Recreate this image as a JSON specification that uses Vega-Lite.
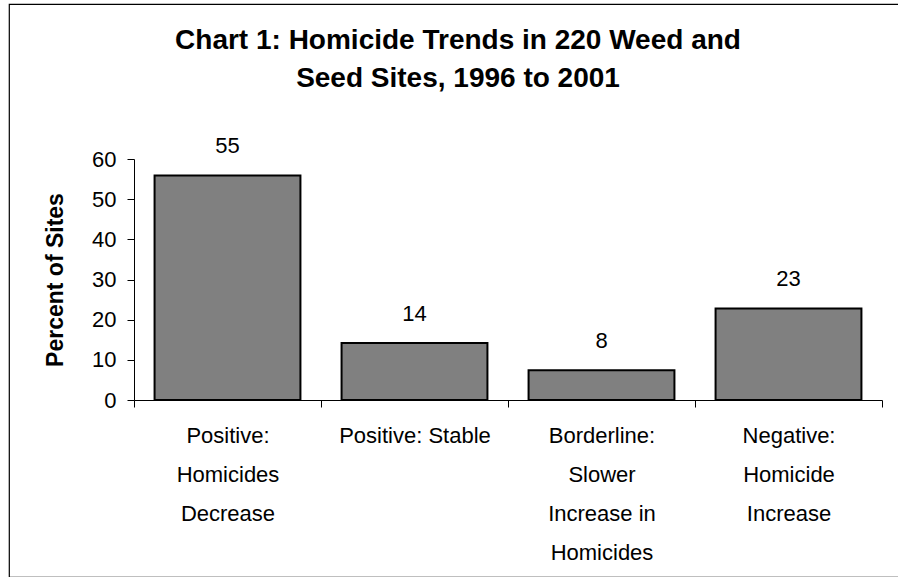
{
  "$schema": "https://vega.github.io/schema/vega-lite/v6.json",
  "autosize": "none",
  "width": 900,
  "height": 573,
  "padding": {"left": 9, "top": 4, "right": 0, "bottom": 0},
  "background": "white",
  "config": {
    "font": "Liberation Sans",
    "view": {"stroke": "black", "strokeWidth": 1.2}
  },
  "title": {
    "text": ["Chart 1: Homicide Trends in 220 Weed and", "Seed Sites, 1996 to 2001"],
    "fontSize": 28,
    "fontWeight": "bold",
    "font": "Liberation Sans",
    "color": "black",
    "anchor": "middle",
    "frame": "group",
    "lineHeight": 38,
    "offset": -89,
    "dx": -1
  },
  "data": {
    "values": [
      {"category": "Positive: Homicides Decrease", "percent": 55.9, "label": "55"},
      {"category": "Positive: Stable", "percent": 14.2, "label": "14"},
      {"category": "Borderline: Slower Increase in Homicides", "percent": 7.4, "label": "8"},
      {"category": "Negative: Homicide Increase", "percent": 22.8, "label": "23"}
    ]
  },
  "encoding": {
    "x": {
      "field": "category",
      "type": "nominal",
      "sort": null,
      "scale": {"range": [125, 873], "paddingInner": 0, "paddingOuter": 0},
      "axis": {
        "title": null,
        "offset": -177,
        "labelAngle": 0,
        "labelFontSize": 22,
        "labelColor": "black",
        "labelLineHeight": 39,
        "labelPadding": 18,
        "labelLimit": 300,
        "tickBand": "extent",
        "tickSize": 7,
        "tickColor": "black",
        "domainColor": "black",
        "labelExpr": "datum.value == 'Positive: Homicides Decrease' ? ['Positive:', 'Homicides', 'Decrease'] : datum.value == 'Borderline: Slower Increase in Homicides' ? ['Borderline:', 'Slower', 'Increase in', 'Homicides'] : datum.value == 'Negative: Homicide Increase' ? ['Negative:', 'Homicide', 'Increase'] : datum.value"
      }
    },
    "y": {
      "field": "percent",
      "type": "quantitative",
      "scale": {"domain": [0, 60], "range": [396, 155], "nice": false},
      "axis": {
        "title": "Percent of Sites",
        "titleFontSize": 23,
        "titleFontWeight": "bold",
        "titleColor": "black",
        "titlePadding": 24,
        "offset": -125,
        "values": [0, 10, 20, 30, 40, 50, 60],
        "grid": false,
        "labelFontSize": 22,
        "labelColor": "black",
        "labelPadding": 11,
        "tickSize": 7,
        "tickColor": "black",
        "domainColor": "black"
      }
    }
  },
  "layer": [
    {
      "mark": {"type": "bar", "fill": "#808080", "stroke": "black", "strokeWidth": 2, "width": {"band": 0.78}}
    },
    {
      "mark": {"type": "text", "fontSize": 22, "color": "black", "baseline": "alphabetic", "dy": -22},
      "encoding": {"text": {"field": "label"}}
    }
  ]
}
